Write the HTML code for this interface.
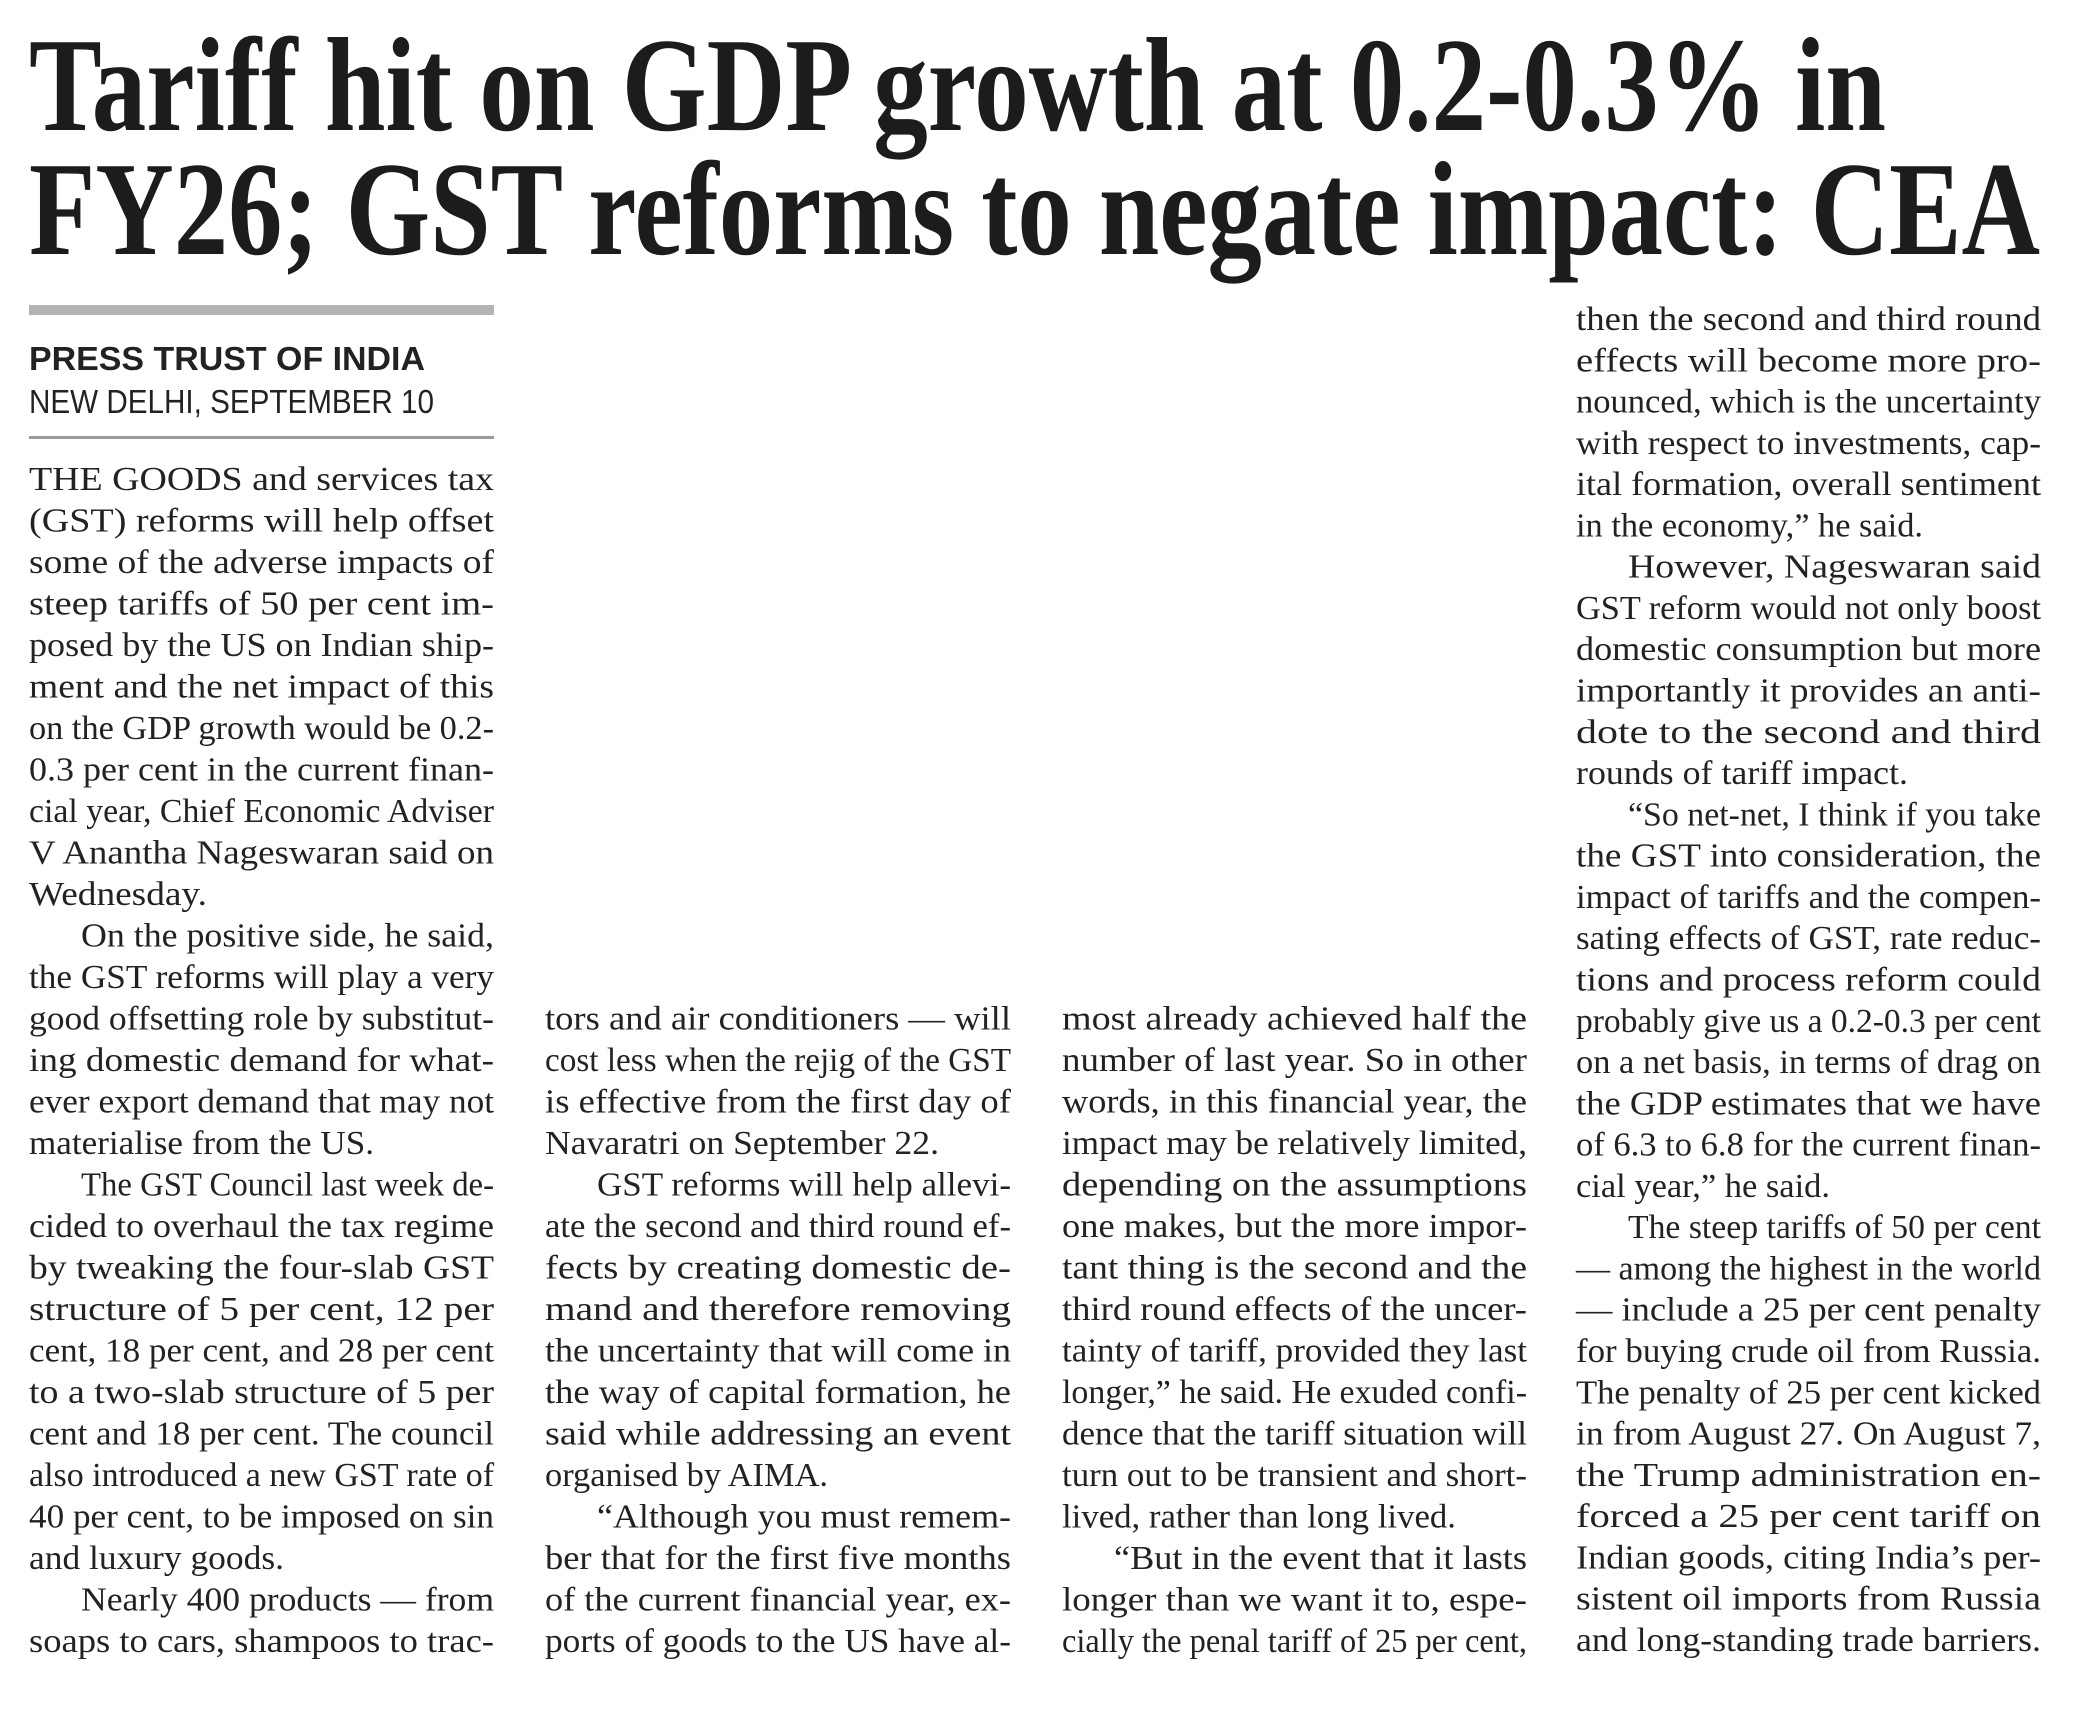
<!DOCTYPE html>
<html><head><meta charset="utf-8"><style>
html,body{margin:0;padding:0;background:#fff;}
svg{display:block;}
.h{font-family:"Liberation Serif",serif;font-weight:bold;font-size:134px;fill:#1c1c1c;}
.b{font-family:"Liberation Serif",serif;font-size:34px;fill:#222;}
.s{font-family:"Liberation Sans",sans-serif;font-size:33px;fill:#222;}
</style></head><body>
<svg width="2097" height="1720" viewBox="0 0 2097 1720" xmlns="http://www.w3.org/2000/svg">
<rect width="2097" height="1720" fill="#fff"/>
<text class="h" x="29" y="130" textLength="1857" lengthAdjust="spacingAndGlyphs">Tariff hit on GDP growth at 0.2-0.3% in</text>
<text class="h" x="29" y="254" textLength="2011" lengthAdjust="spacingAndGlyphs">FY26; GST reforms to negate impact: CEA</text>
<rect x="29" y="305" width="465" height="10" fill="#b4b4b4"/>
<text class="s" x="29" y="370" font-weight="bold" textLength="396" lengthAdjust="spacingAndGlyphs">PRESS TRUST OF INDIA</text>
<text class="s" x="29" y="413" textLength="405" lengthAdjust="spacingAndGlyphs">NEW DELHI, SEPTEMBER 10</text>
<rect x="29" y="436" width="465" height="3" fill="#9a9a9a"/>
<g class="b">
<text x="29" y="490" textLength="465" lengthAdjust="spacingAndGlyphs">THE GOODS and services tax</text>
<text x="29" y="531.5" textLength="465" lengthAdjust="spacingAndGlyphs">(GST) reforms will help offset</text>
<text x="29" y="573" textLength="465" lengthAdjust="spacingAndGlyphs">some of the adverse impacts of</text>
<text x="29" y="614.5" textLength="465" lengthAdjust="spacingAndGlyphs">steep tariffs of 50 per cent im-</text>
<text x="29" y="656" textLength="465" lengthAdjust="spacingAndGlyphs">posed by the US on Indian ship-</text>
<text x="29" y="697.5" textLength="465" lengthAdjust="spacingAndGlyphs">ment and the net impact of this</text>
<text x="29" y="739" textLength="465" lengthAdjust="spacingAndGlyphs">on the GDP growth would be 0.2-</text>
<text x="29" y="780.5" textLength="465" lengthAdjust="spacingAndGlyphs">0.3 per cent in the current finan-</text>
<text x="29" y="822" textLength="465" lengthAdjust="spacingAndGlyphs">cial year, Chief Economic Adviser</text>
<text x="29" y="863.5" textLength="465" lengthAdjust="spacingAndGlyphs">V Anantha Nageswaran said on</text>
<text x="29" y="905" textLength="178" lengthAdjust="spacingAndGlyphs">Wednesday.</text>
<text x="81" y="946.5" textLength="413" lengthAdjust="spacingAndGlyphs">On the positive side, he said,</text>
<text x="29" y="988" textLength="465" lengthAdjust="spacingAndGlyphs">the GST reforms will play a very</text>
<text x="29" y="1029.5" textLength="465" lengthAdjust="spacingAndGlyphs">good offsetting role by substitut-</text>
<text x="29" y="1071" textLength="465" lengthAdjust="spacingAndGlyphs">ing domestic demand for what-</text>
<text x="29" y="1112.5" textLength="465" lengthAdjust="spacingAndGlyphs">ever export demand that may not</text>
<text x="29" y="1154" textLength="345" lengthAdjust="spacingAndGlyphs">materialise from the US.</text>
<text x="81" y="1195.5" textLength="413" lengthAdjust="spacingAndGlyphs">The GST Council last week de-</text>
<text x="29" y="1237" textLength="465" lengthAdjust="spacingAndGlyphs">cided to overhaul the tax regime</text>
<text x="29" y="1278.5" textLength="465" lengthAdjust="spacingAndGlyphs">by tweaking the four-slab GST</text>
<text x="29" y="1320" textLength="465" lengthAdjust="spacingAndGlyphs">structure of 5 per cent, 12 per</text>
<text x="29" y="1361.5" textLength="465" lengthAdjust="spacingAndGlyphs">cent, 18 per cent, and 28 per cent</text>
<text x="29" y="1403" textLength="465" lengthAdjust="spacingAndGlyphs">to a two-slab structure of 5 per</text>
<text x="29" y="1444.5" textLength="465" lengthAdjust="spacingAndGlyphs">cent and 18 per cent. The council</text>
<text x="29" y="1486" textLength="465" lengthAdjust="spacingAndGlyphs">also introduced a new GST rate of</text>
<text x="29" y="1527.5" textLength="465" lengthAdjust="spacingAndGlyphs">40 per cent, to be imposed on sin</text>
<text x="29" y="1569" textLength="255" lengthAdjust="spacingAndGlyphs">and luxury goods.</text>
<text x="81" y="1610.5" textLength="413" lengthAdjust="spacingAndGlyphs">Nearly 400 products — from</text>
<text x="29" y="1652" textLength="465" lengthAdjust="spacingAndGlyphs">soaps to cars, shampoos to trac-</text>

<text x="545" y="1029.5" textLength="466" lengthAdjust="spacingAndGlyphs">tors and air conditioners — will</text>
<text x="545" y="1071" textLength="466" lengthAdjust="spacingAndGlyphs">cost less when the rejig of the GST</text>
<text x="545" y="1112.5" textLength="466" lengthAdjust="spacingAndGlyphs">is effective from the first day of</text>
<text x="545" y="1154" textLength="394" lengthAdjust="spacingAndGlyphs">Navaratri on September 22.</text>
<text x="597" y="1195.5" textLength="414" lengthAdjust="spacingAndGlyphs">GST reforms will help allevi-</text>
<text x="545" y="1237" textLength="466" lengthAdjust="spacingAndGlyphs">ate the second and third round ef-</text>
<text x="545" y="1278.5" textLength="466" lengthAdjust="spacingAndGlyphs">fects by creating domestic de-</text>
<text x="545" y="1320" textLength="466" lengthAdjust="spacingAndGlyphs">mand and therefore removing</text>
<text x="545" y="1361.5" textLength="466" lengthAdjust="spacingAndGlyphs">the uncertainty that will come in</text>
<text x="545" y="1403" textLength="466" lengthAdjust="spacingAndGlyphs">the way of capital formation, he</text>
<text x="545" y="1444.5" textLength="466" lengthAdjust="spacingAndGlyphs">said while addressing an event</text>
<text x="545" y="1486" textLength="283" lengthAdjust="spacingAndGlyphs">organised by AIMA.</text>
<text x="597" y="1527.5" textLength="414" lengthAdjust="spacingAndGlyphs">“Although you must remem-</text>
<text x="545" y="1569" textLength="466" lengthAdjust="spacingAndGlyphs">ber that for the first five months</text>
<text x="545" y="1610.5" textLength="466" lengthAdjust="spacingAndGlyphs">of the current financial year, ex-</text>
<text x="545" y="1652" textLength="466" lengthAdjust="spacingAndGlyphs">ports of goods to the US have al-</text>

<text x="1062" y="1029.5" textLength="465" lengthAdjust="spacingAndGlyphs">most already achieved half the</text>
<text x="1062" y="1071" textLength="465" lengthAdjust="spacingAndGlyphs">number of last year. So in other</text>
<text x="1062" y="1112.5" textLength="465" lengthAdjust="spacingAndGlyphs">words, in this financial year, the</text>
<text x="1062" y="1154" textLength="465" lengthAdjust="spacingAndGlyphs">impact may be relatively limited,</text>
<text x="1062" y="1195.5" textLength="465" lengthAdjust="spacingAndGlyphs">depending on the assumptions</text>
<text x="1062" y="1237" textLength="465" lengthAdjust="spacingAndGlyphs">one makes, but the more impor-</text>
<text x="1062" y="1278.5" textLength="465" lengthAdjust="spacingAndGlyphs">tant thing is the second and the</text>
<text x="1062" y="1320" textLength="465" lengthAdjust="spacingAndGlyphs">third round effects of the uncer-</text>
<text x="1062" y="1361.5" textLength="465" lengthAdjust="spacingAndGlyphs">tainty of tariff, provided they last</text>
<text x="1062" y="1403" textLength="465" lengthAdjust="spacingAndGlyphs">longer,” he said. He exuded confi-</text>
<text x="1062" y="1444.5" textLength="465" lengthAdjust="spacingAndGlyphs">dence that the tariff situation will</text>
<text x="1062" y="1486" textLength="465" lengthAdjust="spacingAndGlyphs">turn out to be transient and short-</text>
<text x="1062" y="1527.5" textLength="394" lengthAdjust="spacingAndGlyphs">lived, rather than long lived.</text>
<text x="1114" y="1569" textLength="413" lengthAdjust="spacingAndGlyphs">“But in the event that it lasts</text>
<text x="1062" y="1610.5" textLength="465" lengthAdjust="spacingAndGlyphs">longer than we want it to, espe-</text>
<text x="1062" y="1652" textLength="465" lengthAdjust="spacingAndGlyphs">cially the penal tariff of 25 per cent,</text>

<text x="1576" y="330" textLength="465" lengthAdjust="spacingAndGlyphs">then the second and third round</text>
<text x="1576" y="371.3" textLength="465" lengthAdjust="spacingAndGlyphs">effects will become more pro-</text>
<text x="1576" y="412.6" textLength="465" lengthAdjust="spacingAndGlyphs">nounced, which is the uncertainty</text>
<text x="1576" y="453.8" textLength="465" lengthAdjust="spacingAndGlyphs">with respect to investments, cap-</text>
<text x="1576" y="495.1" textLength="465" lengthAdjust="spacingAndGlyphs">ital formation, overall sentiment</text>
<text x="1576" y="536.4" textLength="347" lengthAdjust="spacingAndGlyphs">in the economy,” he said.</text>
<text x="1628" y="577.7" textLength="413" lengthAdjust="spacingAndGlyphs">However, Nageswaran said</text>
<text x="1576" y="619" textLength="465" lengthAdjust="spacingAndGlyphs">GST reform would not only boost</text>
<text x="1576" y="660.2" textLength="465" lengthAdjust="spacingAndGlyphs">domestic consumption but more</text>
<text x="1576" y="701.5" textLength="465" lengthAdjust="spacingAndGlyphs">importantly it provides an anti-</text>
<text x="1576" y="742.8" textLength="465" lengthAdjust="spacingAndGlyphs">dote to the second and third</text>
<text x="1576" y="784.1" textLength="332" lengthAdjust="spacingAndGlyphs">rounds of tariff impact.</text>
<text x="1628" y="825.4" textLength="413" lengthAdjust="spacingAndGlyphs">“So net-net, I think if you take</text>
<text x="1576" y="866.6" textLength="465" lengthAdjust="spacingAndGlyphs">the GST into consideration, the</text>
<text x="1576" y="907.9" textLength="465" lengthAdjust="spacingAndGlyphs">impact of tariffs and the compen-</text>
<text x="1576" y="949.2" textLength="465" lengthAdjust="spacingAndGlyphs">sating effects of GST, rate reduc-</text>
<text x="1576" y="990.5" textLength="465" lengthAdjust="spacingAndGlyphs">tions and process reform could</text>
<text x="1576" y="1031.8" textLength="465" lengthAdjust="spacingAndGlyphs">probably give us a 0.2-0.3 per cent</text>
<text x="1576" y="1073" textLength="465" lengthAdjust="spacingAndGlyphs">on a net basis, in terms of drag on</text>
<text x="1576" y="1114.3" textLength="465" lengthAdjust="spacingAndGlyphs">the GDP estimates that we have</text>
<text x="1576" y="1155.6" textLength="465" lengthAdjust="spacingAndGlyphs">of 6.3 to 6.8 for the current finan-</text>
<text x="1576" y="1196.9" textLength="254" lengthAdjust="spacingAndGlyphs">cial year,” he said.</text>
<text x="1628" y="1238.2" textLength="413" lengthAdjust="spacingAndGlyphs">The steep tariffs of 50 per cent</text>
<text x="1576" y="1279.4" textLength="465" lengthAdjust="spacingAndGlyphs">— among the highest in the world</text>
<text x="1576" y="1320.7" textLength="465" lengthAdjust="spacingAndGlyphs">— include a 25 per cent penalty</text>
<text x="1576" y="1362" textLength="465" lengthAdjust="spacingAndGlyphs">for buying crude oil from Russia.</text>
<text x="1576" y="1403.3" textLength="465" lengthAdjust="spacingAndGlyphs">The penalty of 25 per cent kicked</text>
<text x="1576" y="1444.6" textLength="465" lengthAdjust="spacingAndGlyphs">in from August 27. On August 7,</text>
<text x="1576" y="1485.8" textLength="465" lengthAdjust="spacingAndGlyphs">the Trump administration en-</text>
<text x="1576" y="1527.1" textLength="465" lengthAdjust="spacingAndGlyphs">forced a 25 per cent tariff on</text>
<text x="1576" y="1568.4" textLength="465" lengthAdjust="spacingAndGlyphs">Indian goods, citing India’s per-</text>
<text x="1576" y="1609.7" textLength="465" lengthAdjust="spacingAndGlyphs">sistent oil imports from Russia</text>
<text x="1576" y="1651" textLength="465" lengthAdjust="spacingAndGlyphs">and long-standing trade barriers.</text>
</g>
</svg>
</body></html>
